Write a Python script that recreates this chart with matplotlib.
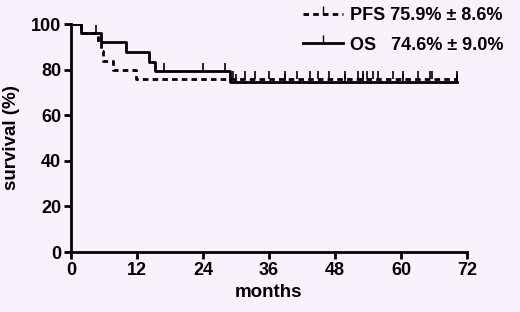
import numpy as np
import matplotlib.pyplot as plt
from matplotlib.lines import Line2D

plt.rcParams['font.family'] = ['Liberation Sans', 'DejaVu Sans']
plt.rcParams['font.weight'] = 'bold'

# Datos (Kaplan-Meier)
pfs_t = [0, 1.8, 4.9, 5.4, 5.8, 7.7, 11.9, 70.2]
pfs_s = [100, 96.0, 92.0, 88.0, 84.0, 80.0, 75.9, 75.9]
os_t = [0, 1.8, 5.5, 10.0, 14.2, 15.3, 28.9, 70.2]
os_s = [100, 96.2, 92.3, 87.6, 83.3, 79.5, 74.6, 74.6]

pfs_cens = [29.5, 31.6, 33.5, 36.0, 38.9, 41.1, 43.5, 44.9, 47.0, 49.8, 52.2,
            53.1, 53.8, 54.9, 55.8, 58.5, 60.4, 63.1, 65.3, 65.6, 70.2]
os_cens = [4.5, 17.0, 24.0, 28.0, 30.0, 38.9, 49.8, 53.1, 60.4, 70.2]

labels = ['PFS 75.9% \u00b1 8.6%', 'OS   74.6% \u00b1 9.0%']
bg = '#f9f1fb'


def surv_at(t, times, surv):
    idx = np.searchsorted(times, t, side='right') - 1
    return np.array(surv)[idx]


fig = plt.figure(figsize=(5.2, 3.12), dpi=100, facecolor=bg)
ax = fig.add_axes([0.1365, 0.192, 0.7615, 0.731], facecolor=bg)

ax.step(pfs_t, pfs_s, where='post', color='black', lw=2, ls=(0, (2, 1.5)))
ax.step(os_t, os_s, where='post', color='black', lw=2)
ax.plot(pfs_cens, surv_at(pfs_cens, pfs_t, pfs_s), ls='none', marker=2,
        ms=6, mew=1.2, color='black')
ax.plot(os_cens, surv_at(os_cens, os_t, os_s), ls='none', marker=2,
        ms=6, mew=1.2, color='black')

ax.set_xlim(0, 72)
ax.set_ylim(0, 100)
ax.set_xticks(np.arange(0, 73, 12))
ax.set_yticks(np.arange(0, 101, 20))
ax.tick_params(labelsize=13, width=2, length=5, direction='out', pad=2)
for lab in ax.get_xticklabels() + ax.get_yticklabels():
    lab.set_fontweight('bold')
for s in ['top', 'right']:
    ax.spines[s].set_visible(False)
for s in ['left', 'bottom']:
    ax.spines[s].set_linewidth(2)
ax.set_xlabel('months', fontsize=13.5, fontweight='bold', labelpad=4)
ax.set_ylabel('survival (%)', fontsize=13.5, fontweight='bold', labelpad=8)

handles = [Line2D([], [], color='black', lw=2, ls=(0, (2, 1.5)), marker=2, ms=6),
           Line2D([], [], color='black', lw=2, marker=2, ms=6)]
leg = fig.legend(handles, labels, loc='upper right', bbox_to_anchor=(1.0, 1.03),
                 frameon=False, fontsize=13,
                 handlelength=2.2, handletextpad=0.4, labelspacing=0.7)
for t in leg.get_texts():
    t.set_fontweight('bold')

plt.savefig('out.png', dpi=100, facecolor=bg)
